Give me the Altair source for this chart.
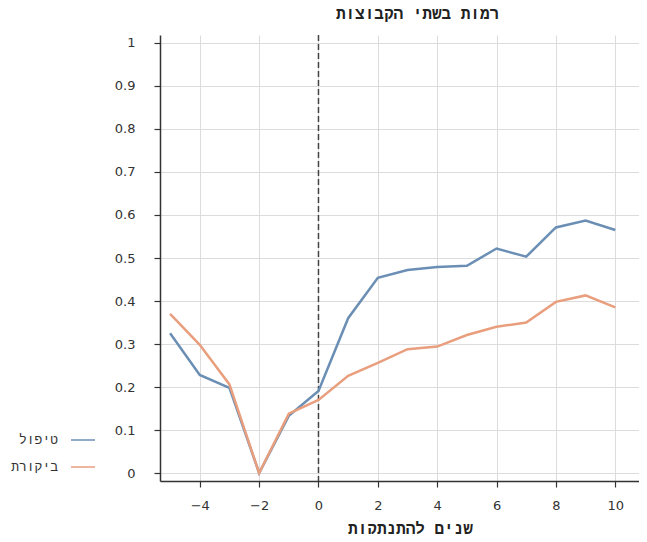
import altair as alt
import pandas as pd

years = [-5, -4, -3, -2, -1, 0, 1, 2, 3, 4, 5, 6, 7, 8, 9, 10]
treatment = [0.325, 0.228, 0.198, 0.0, 0.133, 0.191, 0.360, 0.454, 0.472, 0.479, 0.482, 0.522, 0.503, 0.571, 0.587, 0.565]
control = [0.370, 0.298, 0.206, 0.0, 0.138, 0.170, 0.226, 0.256, 0.288, 0.294, 0.321, 0.340, 0.350, 0.398, 0.413, 0.385]
series_names = ["טיפול", "ביקורת"]
series_colors = ["#6b8fb4", "#e99e7e"]
x_ticks = [-4, -2, 0, 2, 4, 6, 8, 10]
y_ticks = [0, 0.1, 0.2, 0.3, 0.4, 0.5, 0.6, 0.7, 0.8, 0.9, 1.0]
event_x = [0]

rows = []
for name, vals in zip(series_names, [treatment, control]):
    for x, v in zip(years, vals):
        rows.append({"year": x, "value": v, "group": name})
df = pd.DataFrame(rows)

FONT = "DejaVu Sans"
HFONT = "Liberation Mono"

xscale = alt.Scale(domain=[-5.34, 10.80], nice=False, zero=False)
yscale = alt.Scale(domain=[-0.0186, 1.0186], nice=False, zero=False)

rule = alt.Chart(pd.DataFrame({"x": event_x})).mark_rule(
    color="#444", strokeDash=[6, 3], strokeWidth=1.5
).encode(x=alt.X("x:Q", scale=xscale))

lines = alt.Chart(df).mark_line(strokeWidth=2.5).encode(
    x=alt.X("year:Q", scale=xscale,
            axis=alt.Axis(title="שנים להתנתקות", values=x_ticks, grid=True,
                          labelPadding=12, titlePadding=8, titleX=250)),
    y=alt.Y("value:Q", scale=yscale,
            axis=alt.Axis(title=None, values=y_ticks, format=".1~f", grid=True,
                          labelPadding=19)),
    color=alt.Color("group:N",
                    scale=alt.Scale(domain=series_names, range=series_colors),
                    legend=alt.Legend(title=None, orient="none", legendX=-90, legendY=392,
                                      symbolType="stroke", symbolSize=576,
                                      symbolStrokeWidth=1.5, labelAlign="right",
                                      labelOffset={"expr": "-38"}, rowPadding=7,
                                      labelFontSize=13, labelFont=HFONT,
                                      labelColor="#333")),
)

chart = alt.layer(rule, lines).properties(
    width=479, height=446,
    background="white",
    title=alt.TitleParams("רמות בשתי הקבוצות", fontSize=16, font=HFONT,
                          fontWeight="bold", color="#222", offset=12, dx=18),
    autosize=alt.AutoSizeParams(type="none"),
    padding={"left": 152, "top": 27, "right": 0, "bottom": 53},
).configure_view(stroke=None).configure_axis(
    labelFont=FONT, labelFontSize=13, labelColor="#333",
    titleFont=HFONT, titleFontSize=16, titleFontWeight="bold", titleColor="#222",
    domainColor="#333", domainWidth=1.5, tickColor="#333", tickSize=6, tickWidth=1.2,
    gridColor="#dcdcdc", gridWidth=1,
)

chart.save("out.html", embed_options={"renderer": "svg", "actions": False})
